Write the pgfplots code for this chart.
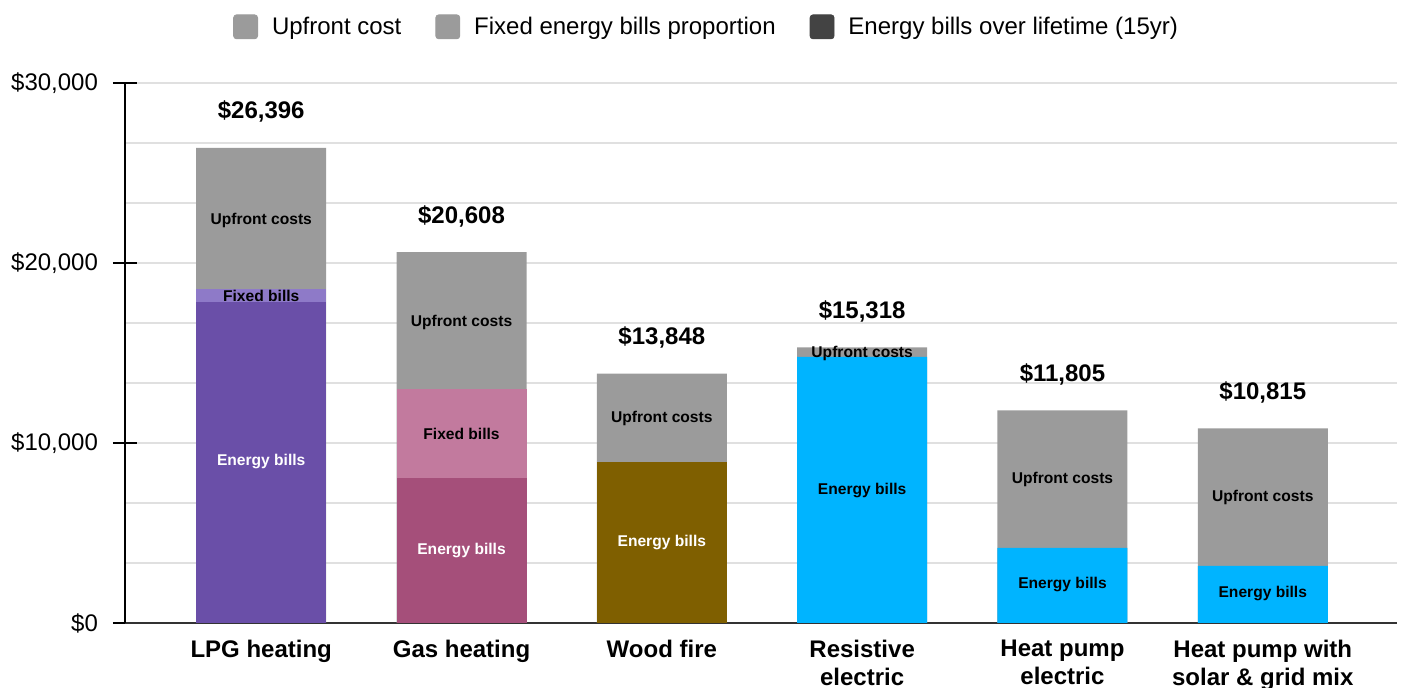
\documentclass[border=0pt]{standalone}
\usepackage{pgfplots}
\pgfplotsset{compat=1.18}
\usepackage{fontspec}
\setmainfont{Liberation Sans}
\definecolor{upg}{HTML}{9B9B9B}
\definecolor{legdark}{HTML}{434343}
\definecolor{lpgen}{HTML}{6A4FA8}
\definecolor{lpgfix}{HTML}{8E7AC8}
\definecolor{gasen}{HTML}{A54F7A}
\definecolor{gasfix}{HTML}{C27A9E}
\definecolor{wood}{HTML}{7F5F00}
\definecolor{elec}{HTML}{00B4FF}
\definecolor{gridc}{HTML}{E0E0E0}
\tikzset{lab/.style={font=\bfseries\fontsize{7.8}{9}\selectfont, inner sep=0pt}}
\begin{document}
\begin{tikzpicture}
\pgfplotsset{
  seg/.style={fill=#1, draw=none, forget plot, bar shift=0pt, bar width=65pt},
}
\begin{axis}[
  scale only axis, width=636pt, height=270pt,
  at={(0,0)}, anchor=south west,
  xmin=-0.68, xmax=5.67, ymin=0, ymax=30000,
  ybar,
  axis lines*=left,
  x axis line style={draw=black!80, line width=0.6pt},
  y axis line style={draw=black, line width=0.6pt},
  xtick={0,1,2,3,4,5},
  xticklabels={{LPG heating},{Gas heating},{Wood fire},{Resistive\\electric},{Heat pump\\electric},{Heat pump with\\solar \& grid mix}},
  xticklabel style={align=center, font=\bfseries\fontsize{12}{14}\selectfont, yshift=1pt},
  xtick style={draw=none},
  scaled y ticks=false,
  ytick={0,10000,20000,30000},
  yticklabels={{\$0},{\$10,000},{\$20,000},{\$30,000}},
  yticklabel style={font=\fontsize{12}{14}\selectfont, xshift=-4pt},
  minor ytick={3333.33,6666.67,13333.33,16666.67,23333.33,26666.67},
  ymajorgrids, yminorgrids,
  major grid style={draw=gridc, line width=0.7pt},
  minor grid style={draw=gridc, line width=0.7pt},
  major tick length=12pt, minor tick length=0pt, tick align=center,
  ytick style={draw=black, line width=0.6pt},
  /pgf/number format/assume math mode=true,
  legend style={at={(0.458,1.104)}, anchor=center, draw=none, fill=none,
    font=\fontsize{12}{14}\selectfont,
    /tikz/every even column/.append style={column sep=15pt}},
  legend columns=3,
]
% total (upfront on top)
\addplot[seg=upg, point meta=explicit symbolic, nodes near coords,
  every node near coord/.append style={anchor=center, yshift=18pt, font=\bfseries\fontsize{12}{14}\selectfont, text=black}]
  coordinates {(0,26396) [\$26,396] (1,20608) [\$20,608] (2,13848) [\$13,848] (3,15318) [\$15,318] (4,11805) [\$11,805] (5,10815) [\$10,815]};
% fixed bills tops
\addplot[seg=lpgfix] coordinates {(0,18556)};
\addplot[seg=gasfix] coordinates {(1,13000)};
% energy bills
\addplot[seg=lpgen] coordinates {(0,17833)};
\addplot[seg=gasen] coordinates {(1,8056)};
\addplot[seg=wood] coordinates {(2,8950)};
\addplot[seg=elec] coordinates {(3,14778) (4,4167) (5,3167)};

\addlegendimage{legend image code/.code={\fill[upg, rounded corners=1.5pt] (0pt,-6pt) rectangle (12pt,6pt); \path (17pt,0pt);}}
\addlegendentry{Upfront cost}
\addlegendimage{legend image code/.code={\fill[upg, rounded corners=1.5pt] (0pt,-6pt) rectangle (12pt,6pt); \path (17pt,0pt);}}
\addlegendentry{Fixed energy bills proportion}
\addlegendimage{legend image code/.code={\fill[legdark, rounded corners=1.5pt] (0pt,-6pt) rectangle (12pt,6pt); \path (17pt,0pt);}}
\addlegendentry{Energy bills over lifetime (15yr)}

% segment labels
\node[lab] at (axis cs:0,22389) {Upfront costs};
\node[lab] at (axis cs:0,18167) {Fixed bills};
\node[lab, text=white] at (axis cs:0,8944) {Energy bills};
\node[lab] at (axis cs:1,16722) {Upfront costs};
\node[lab] at (axis cs:1,10500) {Fixed bills};
\node[lab, text=white] at (axis cs:1,4000) {Energy bills};
\node[lab] at (axis cs:2,11389) {Upfront costs};
\node[lab, text=white] at (axis cs:2,4444) {Energy bills};
\node[lab] at (axis cs:3,15000) {Upfront costs};
\node[lab] at (axis cs:3,7333) {Energy bills};
\node[lab] at (axis cs:4,8000) {Upfront costs};
\node[lab] at (axis cs:4,2111) {Energy bills};
\node[lab] at (axis cs:5,7000) {Upfront costs};
\node[lab] at (axis cs:5,1611) {Energy bills};
\end{axis}
\pgfresetboundingbox
\path[use as bounding box] (-62.5pt,-32.5pt) rectangle (639pt,311.5pt);
\end{tikzpicture}
\end{document}
